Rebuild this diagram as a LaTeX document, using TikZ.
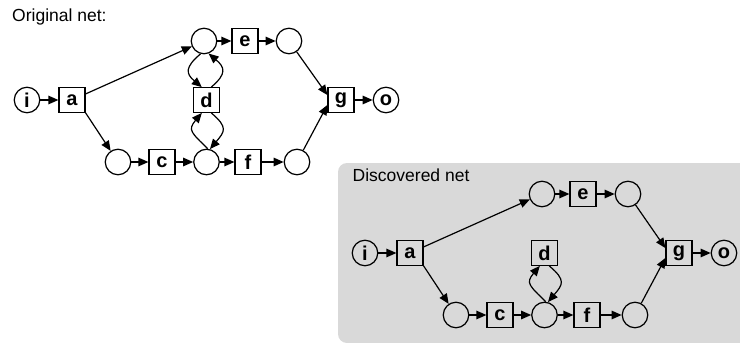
\documentclass[tikz,border=0pt]{standalone}
\usepackage{fontspec}
\setmainfont{Liberation Sans}
\usetikzlibrary{arrows.meta}
\definecolor{bggray}{RGB}{217,217,217}
\begin{document}
\begin{tikzpicture}[x=1pt,y=1pt,
  place/.style={circle,draw,line width=1.2pt,minimum size=25.5pt,inner sep=0pt,font=\fontsize{20}{20}\selectfont\bfseries},
  trans/.style={rectangle,draw,line width=1.2pt,minimum width=26pt,minimum height=24.5pt,inner sep=0pt,font=\fontsize{20}{20}\selectfont\bfseries},
  arr/.style={line width=1.2pt,-{Triangle[length=10pt,width=8.5pt]}},
  loopl/.style={arr,looseness=1.6},
  title/.style={anchor=base west,inner sep=0pt,font=\fontsize{17.5}{20}\selectfont}]
\useasboundingbox (0,0) rectangle (740,-343);
\clip (0,0) rectangle (740,-343);
\fill[bggray,rounded corners=9pt] (338,-163) rectangle (770,-343);

% ---------- original net ----------
\node[title] (t1) at (12,-21.5) {Original net:};
\node[place] (i) at (27,-100) {i};
\node[trans] (a) at (72,-100) {a};
\node[place] (p1) at (204,-41) {};
\node[trans] (e) at (245,-41) {e};
\node[place] (p2) at (289,-41) {};
\node[trans] (d) at (206.5,-100) {d};
\node[place] (p3) at (118,-162) {};
\node[trans] (c) at (162,-162) {c};
\node[place] (p4) at (206.5,-162) {};
\node[trans] (f) at (248,-162) {f};
\node[place] (p5) at (297,-162) {};
\node[trans] (g) at (341,-100) {g};
\node[place] (o) at (386,-100) {o};

\draw[arr] (i) -- (a);
\draw[arr] (a) -- (p1);
\draw[arr] (a.south east) -- (p3);
\draw[arr] (p1) -- (e);
\draw[arr] (e) -- (p2);
\draw[arr] (p3) -- (c);
\draw[arr] (c) -- (p4);
\draw[arr] (p4) -- (f);
\draw[arr] (f) -- (p5);
\draw[arr] (p2) -- (g.160);
\draw[arr] (p5) -- (g.200);
\draw[arr] (g) -- (o);
\draw[loopl] (p1.-105) to[out=-140,in=140] (d.110);
\draw[loopl] (d.70) to[out=40,in=-40] (p1.-70);
\draw[loopl] (p4.85) to[out=135,in=-130] (d.-110);
\draw[loopl] (d.-70) to[out=-40,in=50] (p4.75);

% ---------- discovered net ----------
\begin{scope}[shift={(338,-153)}]
\node[title] (t2) at (14.5,-28.5) {Discovered net};
\node[place] (Di) at (27,-100) {i};
\node[trans] (Da) at (72,-100) {a};
\node[place] (Dp1) at (204,-41) {};
\node[trans] (De) at (245,-41) {e};
\node[place] (Dp2) at (290,-41) {};
\node[trans] (Dd) at (206.5,-100) {d};
\node[place] (Dp3) at (118,-162) {};
\node[trans] (Dc) at (162,-162) {c};
\node[place] (Dp4) at (206.5,-162) {};
\node[trans] (Df) at (249,-162) {f};
\node[place] (Dp5) at (297,-162) {};
\node[trans] (Dg) at (341,-100) {g};
\node[place] (Do) at (386,-100) {o};
\end{scope}

\draw[arr] (Di) -- (Da);
\draw[arr] (Da) -- (Dp1);
\draw[arr] (Da.south east) -- (Dp3);
\draw[arr] (Dp1) -- (De);
\draw[arr] (De) -- (Dp2);
\draw[arr] (Dp3) -- (Dc);
\draw[arr] (Dc) -- (Dp4);
\draw[arr] (Dp4) -- (Df);
\draw[arr] (Df) -- (Dp5);
\draw[arr] (Dp2) -- (Dg.160);
\draw[arr] (Dp5) -- (Dg.200);
\draw[arr] (Dg) -- (Do);
\draw[loopl] (Dp4.85) to[out=135,in=-130] (Dd.-110);
\draw[loopl] (Dd.-70) to[out=-40,in=50] (Dp4.75);
\end{tikzpicture}
\end{document}
